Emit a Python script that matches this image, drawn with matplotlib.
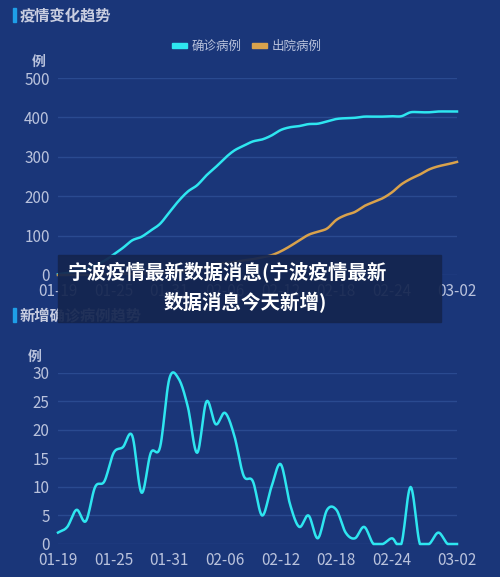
import numpy as np
import matplotlib
matplotlib.use('Agg')
import matplotlib.pyplot as plt
from matplotlib.patches import Rectangle

plt.rcParams['font.family'] = ['Noto Sans CJK SC', 'DejaVu Sans']

dates = ['01-19', '01-25', '01-31', '02-06', '02-12', '02-18', '02-24', '03-02']
date_pos = [0, 6, 12, 18, 24, 30, 36, 43]

new_cases = [2, 3, 6, 4, 10, 11, 16, 17, 19, 9,
             16, 17, 29, 29, 24, 16, 25, 21, 23, 19,
             12, 11, 5, 10, 14, 7, 3, 5, 1, 6,
             6, 2, 1, 3, 0, 0, 1, 0, 10, 0,
             0, 2, 0, 0]
discharged = [0, 0, 0, 0, 1, 1, 2, 3, 3, 4,
              4, 5, 6, 8, 10, 14, 20, 28, 30, 33,
              37, 40, 45, 50, 60, 73, 88, 102, 110, 118,
              140, 152, 160, 175, 185, 195, 210, 230, 244, 255,
              268, 276, 281, 287]
confirmed = np.cumsum(new_cases)

BG = '#1a3679'
GRID = '#2a4a90'
TXT = '#b9c2dc'
CYAN = '#2ee6f0'
ORANGE = '#d9a24c'


def smooth(y, n=12):
    # catmull-rom style curve through the data points, for drawing only
    y = np.asarray(y, float)
    x = np.arange(len(y))
    m = np.gradient(y)
    xs, ys = [], []
    for i in range(len(y) - 1):
        t = np.linspace(0, 1, n, endpoint=False)
        h00 = 2*t**3 - 3*t**2 + 1
        h10 = t**3 - 2*t**2 + t
        h01 = -2*t**3 + 3*t**2
        h11 = t**3 - t**2
        xs.append(x[i] + t)
        ys.append(h00*y[i] + h10*m[i] + h01*y[i+1] + h11*m[i+1])
    xs.append([x[-1]])
    ys.append([y[-1]])
    return np.concatenate(xs), np.maximum(np.concatenate(ys), 0)


def style(ax, ymax, step):
    ax.set_facecolor(BG)
    for s in ax.spines.values():
        s.set_visible(False)
    ax.set_xlim(0, 43)
    ax.set_ylim(0, ymax)
    ax.set_yticks(np.arange(0, ymax + 1, step))
    ax.set_xticks(date_pos)
    ax.set_xticklabels(dates)
    ax.tick_params(colors=TXT, labelsize=11, length=0, pad=6)
    ax.grid(axis='y', color=GRID, linewidth=1)
    ax.set_axisbelow(True)


fig = plt.figure(figsize=(5, 5.77), dpi=100, facecolor=BG)

ax1 = fig.add_axes([0.116, 0.5234, 0.798, 0.3414])
style(ax1, 500, 100)
xs, ys = smooth(confirmed)
ax1.plot(xs, ys, color=CYAN, lw=1.8, clip_on=False)
xs, ys = smooth(discharged)
ax1.plot(xs, ys, color=ORANGE, lw=1.8, clip_on=False)
ax1.text(-0.03, 1.06, '例', transform=ax1.transAxes, color=TXT, fontsize=10,
         ha='right', fontweight='bold')

ax2 = fig.add_axes([0.116, 0.0572, 0.798, 0.2964])
style(ax2, 30, 5)
xs, ys = smooth(new_cases)
ax2.plot(xs, ys, color=CYAN, lw=1.8, clip_on=False)
ax2.text(-0.04, 1.07, '例', transform=ax2.transAxes, color=TXT, fontsize=10,
         ha='right', fontweight='bold')

# section titles
fig.patches.append(Rectangle((0.026, 0.962), 0.005, 0.024, transform=fig.transFigure,
                             color='#1e9ee8'))
fig.text(0.04, 0.973, '疫情变化趋势', color='#c8cde0', fontsize=11, va='center',
         fontweight='bold')
fig.patches.append(Rectangle((0.026, 0.442), 0.005, 0.024, transform=fig.transFigure,
                             color='#1e9ee8'))
fig.text(0.04, 0.453, '新增确诊病例趋势', color='#c8cde0', fontsize=11, va='center',
         fontweight='bold')

# legend
fig.patches.append(Rectangle((0.343, 0.916), 0.03, 0.009, transform=fig.transFigure,
                             color=CYAN))
fig.text(0.383, 0.920, '确诊病例', color=TXT, fontsize=9, va='center')
fig.patches.append(Rectangle((0.503, 0.916), 0.03, 0.009, transform=fig.transFigure,
                             color=ORANGE))
fig.text(0.543, 0.920, '出院病例', color=TXT, fontsize=9, va='center')

# overlay banner
fig.patches.append(Rectangle((0.116, 0.442), 0.766, 0.116, transform=fig.transFigure,
                             color='#14254f', alpha=0.93, zorder=10))
fig.text(0.135, 0.530, '宁波疫情最新数据消息(宁波疫情最新', color='white', fontsize=14,
         fontweight='bold', ha='left', va='center', zorder=11)
fig.text(0.49, 0.475, '数据消息今天新增)', color='white', fontsize=14,
         fontweight='bold', ha='center', va='center', zorder=11)

fig.savefig('out.png', dpi=100, facecolor=BG)
